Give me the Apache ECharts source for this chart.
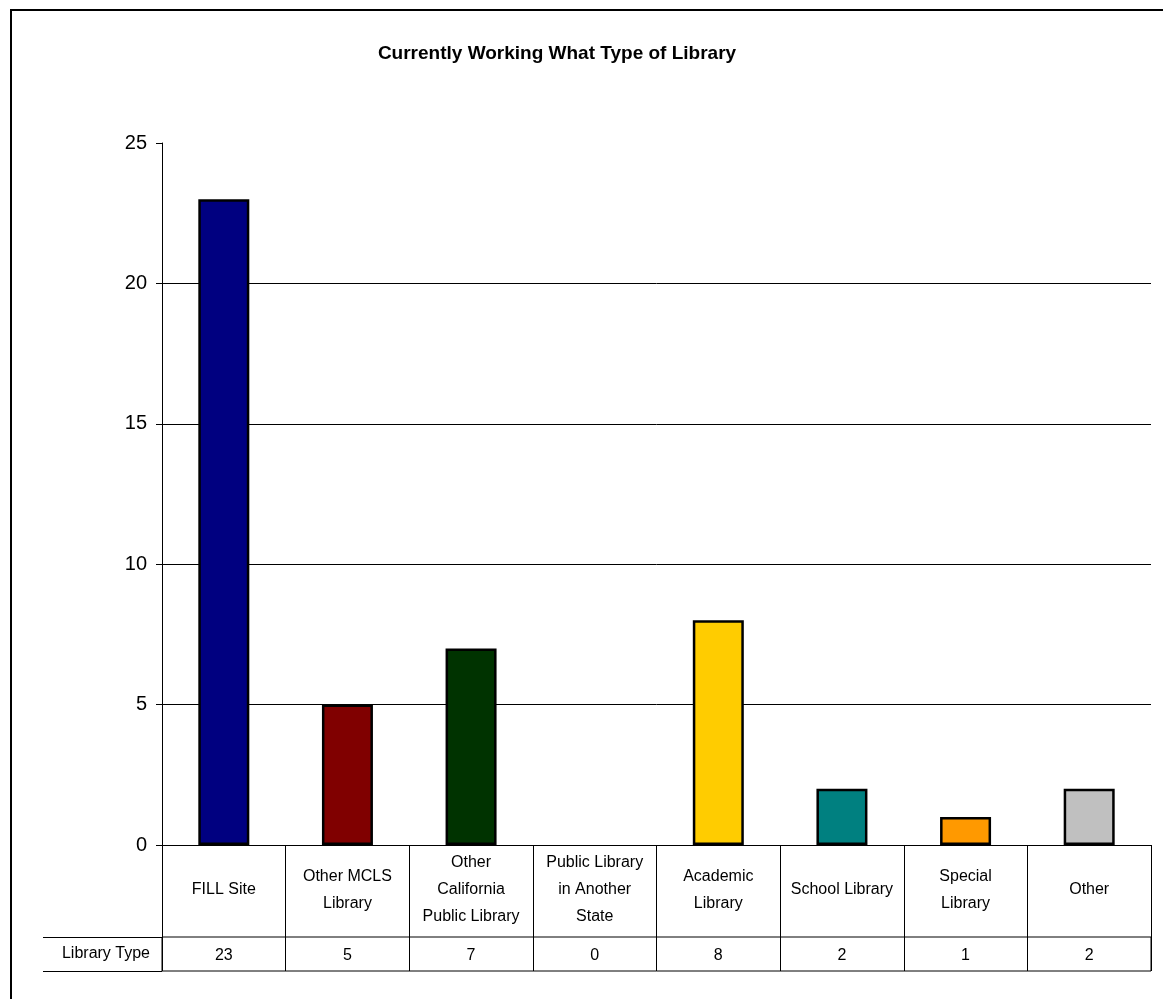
<!DOCTYPE html>
<html>
<head>
<meta charset="utf-8">
<script src="https://cdn.jsdelivr.net/npm/echarts@6/dist/echarts.min.js"></script>
<style>html,body{margin:0;padding:0;background:#fff}#c{width:1163px;height:999px}</style>
</head>
<body>
<div id="c"></div>
<script>
const titleText = 'Currently Working What Type of Library';
const categories = ['FILL Site', 'Other MCLS\nLibrary', 'Other\nCalifornia\nPublic Library', 'Public Library\nin Another\nState', 'Academic\nLibrary', 'School Library', 'Special\nLibrary', 'Other'];
const values = [23, 5, 7, 0, 8, 2, 1, 2];
const rowLabel = 'Library Type';
const barColors = ['#000080', '#800000', '#003300', '#333399', '#FFCC00', '#008080', '#FF9900', '#C0C0C0'];
const yMin = 0, yMax = 25, yStep = 5;

const FONT = '"Liberation Sans", Arial, sans-serif';
const chart = echarts.init(document.getElementById('c'));
chart.setOption({
  animation: false,
  backgroundColor: '#fff',
  textStyle: { fontFamily: FONT, color: '#000' },
  graphic: [
    { type: 'rect', shape: { x: 11, y: 10, width: 1300, height: 1200 }, style: { fill: 'none', stroke: '#000', lineWidth: 2 }, silent: true },
    { type: 'text', x: 557, y: 54, style: { text: titleText, font: 'bold 19px ' + FONT, fill: '#000', align: 'center', verticalAlign: 'middle' } }
  ],
  grid: [
    { left: 162, right: 12, top: 143, bottom: 154 },
    { left: 162, right: 12, top: 937, height: 34, show: true, borderColor: '#000', borderWidth: 1, backgroundColor: 'transparent' }
  ],
  xAxis: [
    {
      gridIndex: 0, type: 'category', data: categories,
      axisLine: { lineStyle: { color: '#000', width: 1 } },
      axisTick: { show: true, length: 126, alignWithLabel: false, lineStyle: { color: '#000', width: 1 } },
      axisLabel: { interval: 0, fontSize: 16, lineHeight: 27, color: '#000', fontFamily: FONT, verticalAlign: 'middle', margin: 45, align: 'center' },
      splitLine: { show: false }
    },
    {
      gridIndex: 1, type: 'category', data: values.map(String),
      axisLine: { show: false }, axisTick: { show: false },
      axisLabel: { interval: 0, fontSize: 16, color: '#000', fontFamily: FONT, verticalAlign: 'middle', margin: -15 },
      splitLine: { show: false }
    }
  ],
  yAxis: [
    {
      gridIndex: 0, type: 'value', min: yMin, max: yMax, interval: yStep,
      axisLine: { show: true, lineStyle: { color: '#000', width: 1 } },
      axisTick: { show: true, length: 6, lineStyle: { color: '#000' } },
      axisLabel: { fontSize: 20, color: '#000', fontFamily: FONT, margin: 15 },
      splitLine: { show: true, showMaxLine: false, lineStyle: { color: '#000', width: 1 } }
    },
    {
      gridIndex: 1, type: 'category', data: [rowLabel],
      axisLine: { show: false },
      axisTick: { show: true, length: 119, lineStyle: { color: '#000', width: 1 } },
      axisLabel: { fontSize: 16, color: '#000', fontFamily: FONT, margin: 12, padding: [4, 0, 0, 0] },
      splitLine: { show: false }
    },
    {
      gridIndex: 1, type: 'category', data: [rowLabel], offset: 119,
      axisLine: { show: true, lineStyle: { color: '#000', width: 1 } },
      axisTick: { show: false }, axisLabel: { show: false }, splitLine: { show: false }
    }
  ],
  series: [{
    type: 'bar', xAxisIndex: 0, yAxisIndex: 0,
    barWidth: 51,
    data: values.map((v, i) => ({ value: v, itemStyle: { color: barColors[i], borderWidth: v === 0 ? 0 : 2.5 } })),
    itemStyle: { borderColor: '#000', borderWidth: 2.5 }
  }]
});
</script>
</body>
</html>
